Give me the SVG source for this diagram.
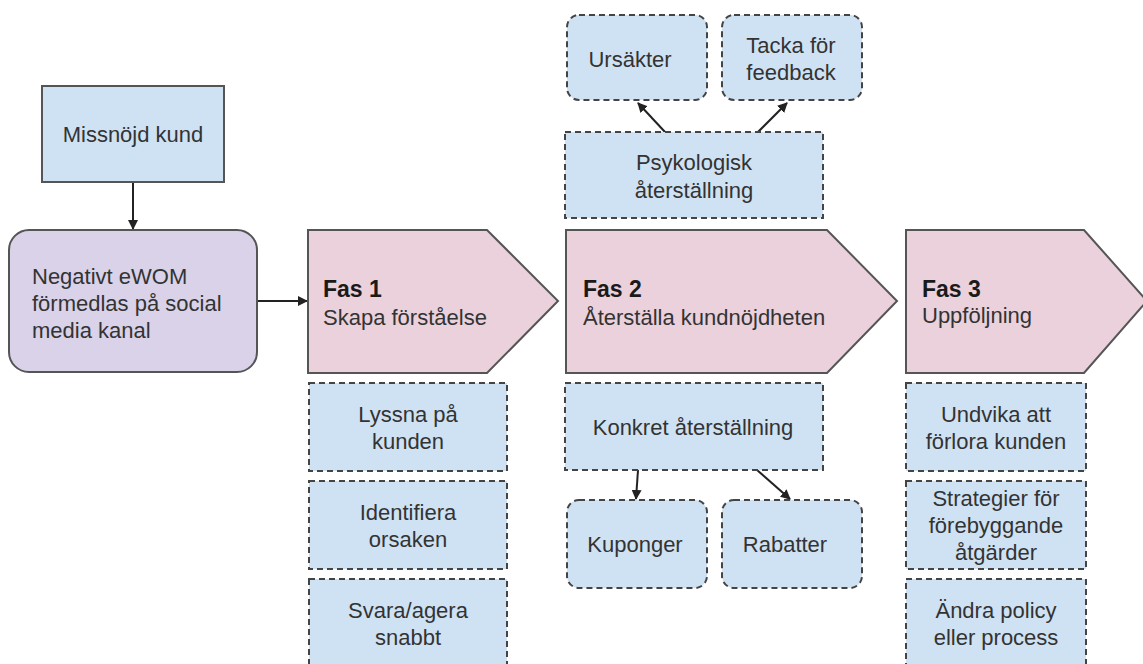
<svg xmlns="http://www.w3.org/2000/svg" width="1143" height="664" viewBox="0 0 1143 664">
<defs>
<style>
text{font-family:"Liberation Sans",Arial,sans-serif;font-size:22px;fill:#333}
.c{text-anchor:middle}
.b{font-weight:bold;font-size:23px;fill:#1a1a1a}
.solid{stroke:#555;stroke-width:2}
.dash{fill:#cfe2f3;stroke:#444;stroke-width:2;stroke-dasharray:6 4}
.phase{fill:#ead1dc;stroke:#555;stroke-width:2}
.conn{stroke:#222;stroke-width:2;fill:none;marker-end:url(#ah)}
</style>
<marker id="ah" viewBox="0 0 10 10" refX="9" refY="5" markerWidth="5" markerHeight="5" orient="auto" markerUnits="strokeWidth">
<path d="M0,0 L10,5 L0,10 z" fill="#222"/>
</marker>
</defs>
<rect width="1143" height="664" fill="#fff"/>
<g id="connectors">
<line class="conn" x1="133" y1="182" x2="133" y2="229"/>
<line class="conn" x1="257" y1="301" x2="307" y2="301"/>
<line class="conn" x1="665" y1="132" x2="638" y2="103"/>
<line class="conn" x1="758" y1="132" x2="787" y2="103"/>
<line class="conn" x1="638" y1="470" x2="636" y2="499"/>
<line class="conn" x1="757" y1="470" x2="790" y2="499"/>
</g>
<g id="missnojd">
<rect class="solid" x="42" y="86" width="182" height="96" fill="#cfe2f3"/>
<text class="c" x="133" y="142">Missnöjd kund</text>
</g>
<g id="ewom">
<rect class="solid" x="9" y="230" width="248" height="142" rx="20" fill="#d9d2e9"/>
<text x="32" y="284">Negativt eWOM</text>
<text x="32" y="311">förmedlas på social</text>
<text x="32" y="338">media kanal</text>
</g>
<g id="fas1">
<path class="phase" d="M308,230 L487,230 L558,301 L487,373 L308,373 Z"/>
<text class="b" x="323" y="297">Fas 1</text>
<text x="323" y="325">Skapa förståelse</text>
</g>
<g id="fas2">
<path class="phase" d="M566,230 L827,230 L897,301 L827,373 L566,373 Z"/>
<text class="b" x="583" y="297">Fas 2</text>
<text x="583" y="325">Återställa kundnöjdheten</text>
</g>
<g id="fas3">
<path class="phase" d="M906,230 L1084,230 L1147,301 L1084,373 L906,373 Z"/>
<text class="b" x="922" y="297">Fas 3</text>
<text x="922" y="323">Uppföljning</text>
</g>
<g id="ursakter">
<rect class="dash" x="567" y="15" width="140" height="85" rx="12"/>
<text class="c" x="630" y="67">Ursäkter</text>
</g>
<g id="tacka">
<rect class="dash" x="722" y="15" width="140" height="85" rx="12"/>
<text class="c" x="791" y="53">Tacka för</text>
<text class="c" x="791" y="80">feedback</text>
</g>
<g id="psykologisk">
<rect class="dash" x="565" y="132" width="258" height="86"/>
<text class="c" x="694" y="170">Psykologisk</text>
<text class="c" x="694" y="198">återställning</text>
</g>
<g id="konkret">
<rect class="dash" x="565" y="383" width="258" height="87"/>
<text class="c" x="693" y="435">Konkret återställning</text>
</g>
<g id="kuponger">
<rect class="dash" x="567" y="500" width="140" height="88" rx="12"/>
<text class="c" x="635" y="552">Kuponger</text>
</g>
<g id="rabatter">
<rect class="dash" x="722" y="500" width="140" height="88" rx="12"/>
<text class="c" x="785" y="552">Rabatter</text>
</g>
<g id="lyssna">
<rect class="dash" x="309" y="383" width="198" height="88"/>
<text class="c" x="408" y="422">Lyssna på</text>
<text class="c" x="408" y="449">kunden</text>
</g>
<g id="identifiera">
<rect class="dash" x="309" y="481" width="198" height="88"/>
<text class="c" x="408" y="520">Identifiera</text>
<text class="c" x="408" y="547">orsaken</text>
</g>
<g id="svara">
<rect class="dash" x="309" y="579" width="198" height="90"/>
<text class="c" x="408" y="618">Svara/agera</text>
<text class="c" x="408" y="645">snabbt</text>
</g>
<g id="undvika">
<rect class="dash" x="906" y="383" width="180" height="88"/>
<text class="c" x="996" y="422">Undvika att</text>
<text class="c" x="996" y="449">förlora kunden</text>
</g>
<g id="strategier">
<rect class="dash" x="906" y="481" width="180" height="88"/>
<text class="c" x="996" y="506">Strategier för</text>
<text class="c" x="996" y="533">förebyggande</text>
<text class="c" x="996" y="560">åtgärder</text>
</g>
<g id="andra">
<rect class="dash" x="906" y="579" width="180" height="90"/>
<text class="c" x="996" y="618">Ändra policy</text>
<text class="c" x="996" y="645">eller process</text>
</g>
</svg>
